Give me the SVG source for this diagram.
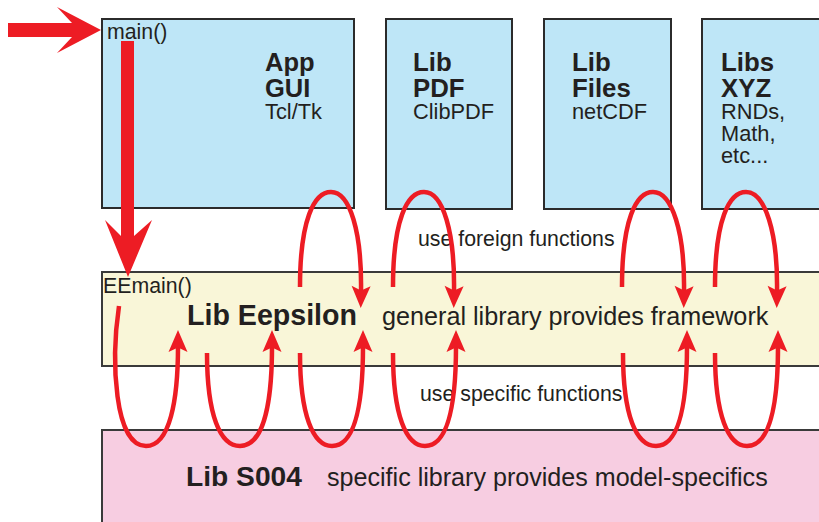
<svg xmlns="http://www.w3.org/2000/svg" width="819" height="522" viewBox="0 0 819 522">
<style>
.box{fill:#bee6f7;stroke:#2b2b2b;stroke-width:2}
.t{font-family:"Liberation Sans",Arial,sans-serif;fill:#231f20}
.b{font-weight:bold}
.loop{fill:none;stroke:#ed1c24;stroke-width:4.5;marker-end:url(#ah)}
.big{fill:#ed1c24}
</style>
<defs>
<marker id="ah" markerUnits="userSpaceOnUse" markerWidth="40" markerHeight="30" viewBox="-10 -15 40 30" refX="0" refY="0" orient="auto" overflow="visible">
<path d="M-6,-9.5 L16,0 L-6,9.5 L-1.5,0 Z" fill="#ed1c24"/>
</marker>
</defs>
<rect width="819" height="522" fill="#ffffff"/>
<g id="s004">
<rect x="102" y="430" width="730" height="110" fill="#f7cde1" stroke="#3a3a3a" stroke-width="2"/>
<text class="t b" x="186" y="486" font-size="28.2">Lib S004</text>
<text class="t" x="327" y="486" font-size="25.1">specific library provides model-specifics</text>
</g>
<g id="eepsilon">
<rect x="102" y="272" width="730" height="94" fill="#f9f6d8" stroke="#3a3a3a" stroke-width="2"/>
<text class="t" x="103" y="293" font-size="21.3">EEmain()</text>
<text class="t b" x="187" y="325" font-size="28.6">Lib Eepsilon</text>
<text class="t" x="382" y="325" font-size="25.2">general library provides framework</text>
</g>
<g id="app">
<rect x="102" y="19" width="252" height="189" class="box" stroke-width="4"/>
<text class="t" x="107" y="39" font-size="21.3">main()</text>
<text class="t b" x="265" y="71" font-size="25.5">App</text>
<text class="t b" x="265" y="97" font-size="25.5">GUI</text>
<text class="t" x="265" y="119" font-size="21.8">Tcl/Tk</text>
</g>
<g id="pdf">
<rect x="386" y="19" width="126" height="190" class="box"/>
<text class="t b" x="413" y="71" font-size="25.8">Lib</text>
<text class="t b" x="413" y="97" font-size="25.8">PDF</text>
<text class="t" x="413" y="119" font-size="21.8">ClibPDF</text>
</g>
<g id="files">
<rect x="544" y="19" width="127" height="190" class="box"/>
<text class="t b" x="572" y="71" font-size="25.8">Lib</text>
<text class="t b" x="572" y="97" font-size="25.8">Files</text>
<text class="t" x="572" y="119" font-size="21.8">netCDF</text>
</g>
<g id="xyz">
<rect x="702" y="19" width="130" height="190" class="box"/>
<text class="t b" x="721" y="71" font-size="25.8">Libs</text>
<text class="t b" x="721" y="97" font-size="25.8">XYZ</text>
<text class="t" x="721" y="119" font-size="21.8">RNDs,</text>
<text class="t" x="721" y="141" font-size="21.8">Math,</text>
<text class="t" x="721" y="163" font-size="21.8">etc...</text>
</g>
<g id="labels">
<text class="t" x="418" y="246" font-size="21.3">use foreign functions</text>
<text class="t" x="420" y="401" font-size="21.3">use specific functions</text>
</g>
<g id="connectors">
<path class="big" d="M8,23 L72,23 L57,7 L101,30 L57,53 L72,37 L8,37 Z"/>
<path class="big" d="M121,41 L134,41 L134,236 L152,220 L128,277 L105,220 L121,236 Z"/>
<path class="loop" d="M300,287 C300,220 314,192 331,192 C350,192 362,232 361,292"/>
<path class="loop" d="M393,287 C393,220 407,192 424,192 C443,192 455,232 454,292"/>
<path class="loop" d="M622,287 C622,220 636,192 653,192 C672,192 685,232 684,292"/>
<path class="loop" d="M715,287 C715,220 729,192 746,192 C765,192 778,232 777,292"/>
<path class="loop" d="M119,306 C111,360 114,446 146,446 C170,446 178,400 178,346"/>
<path class="loop" d="M207,353 C207,415 220,446 240,446 C260,446 272,415 272,346"/>
<path class="loop" d="M300,353 C300,415 313,446 332,446 C352,446 363,415 363,346"/>
<path class="loop" d="M393,353 C393,415 406,446 425,446 C445,446 456,415 456,346"/>
<path class="loop" d="M623,353 C623,415 636,446 656,446 C676,446 687,415 687,346"/>
<path class="loop" d="M715,353 C715,415 728,446 747,446 C767,446 778,415 778,346"/>
</g>
</svg>
